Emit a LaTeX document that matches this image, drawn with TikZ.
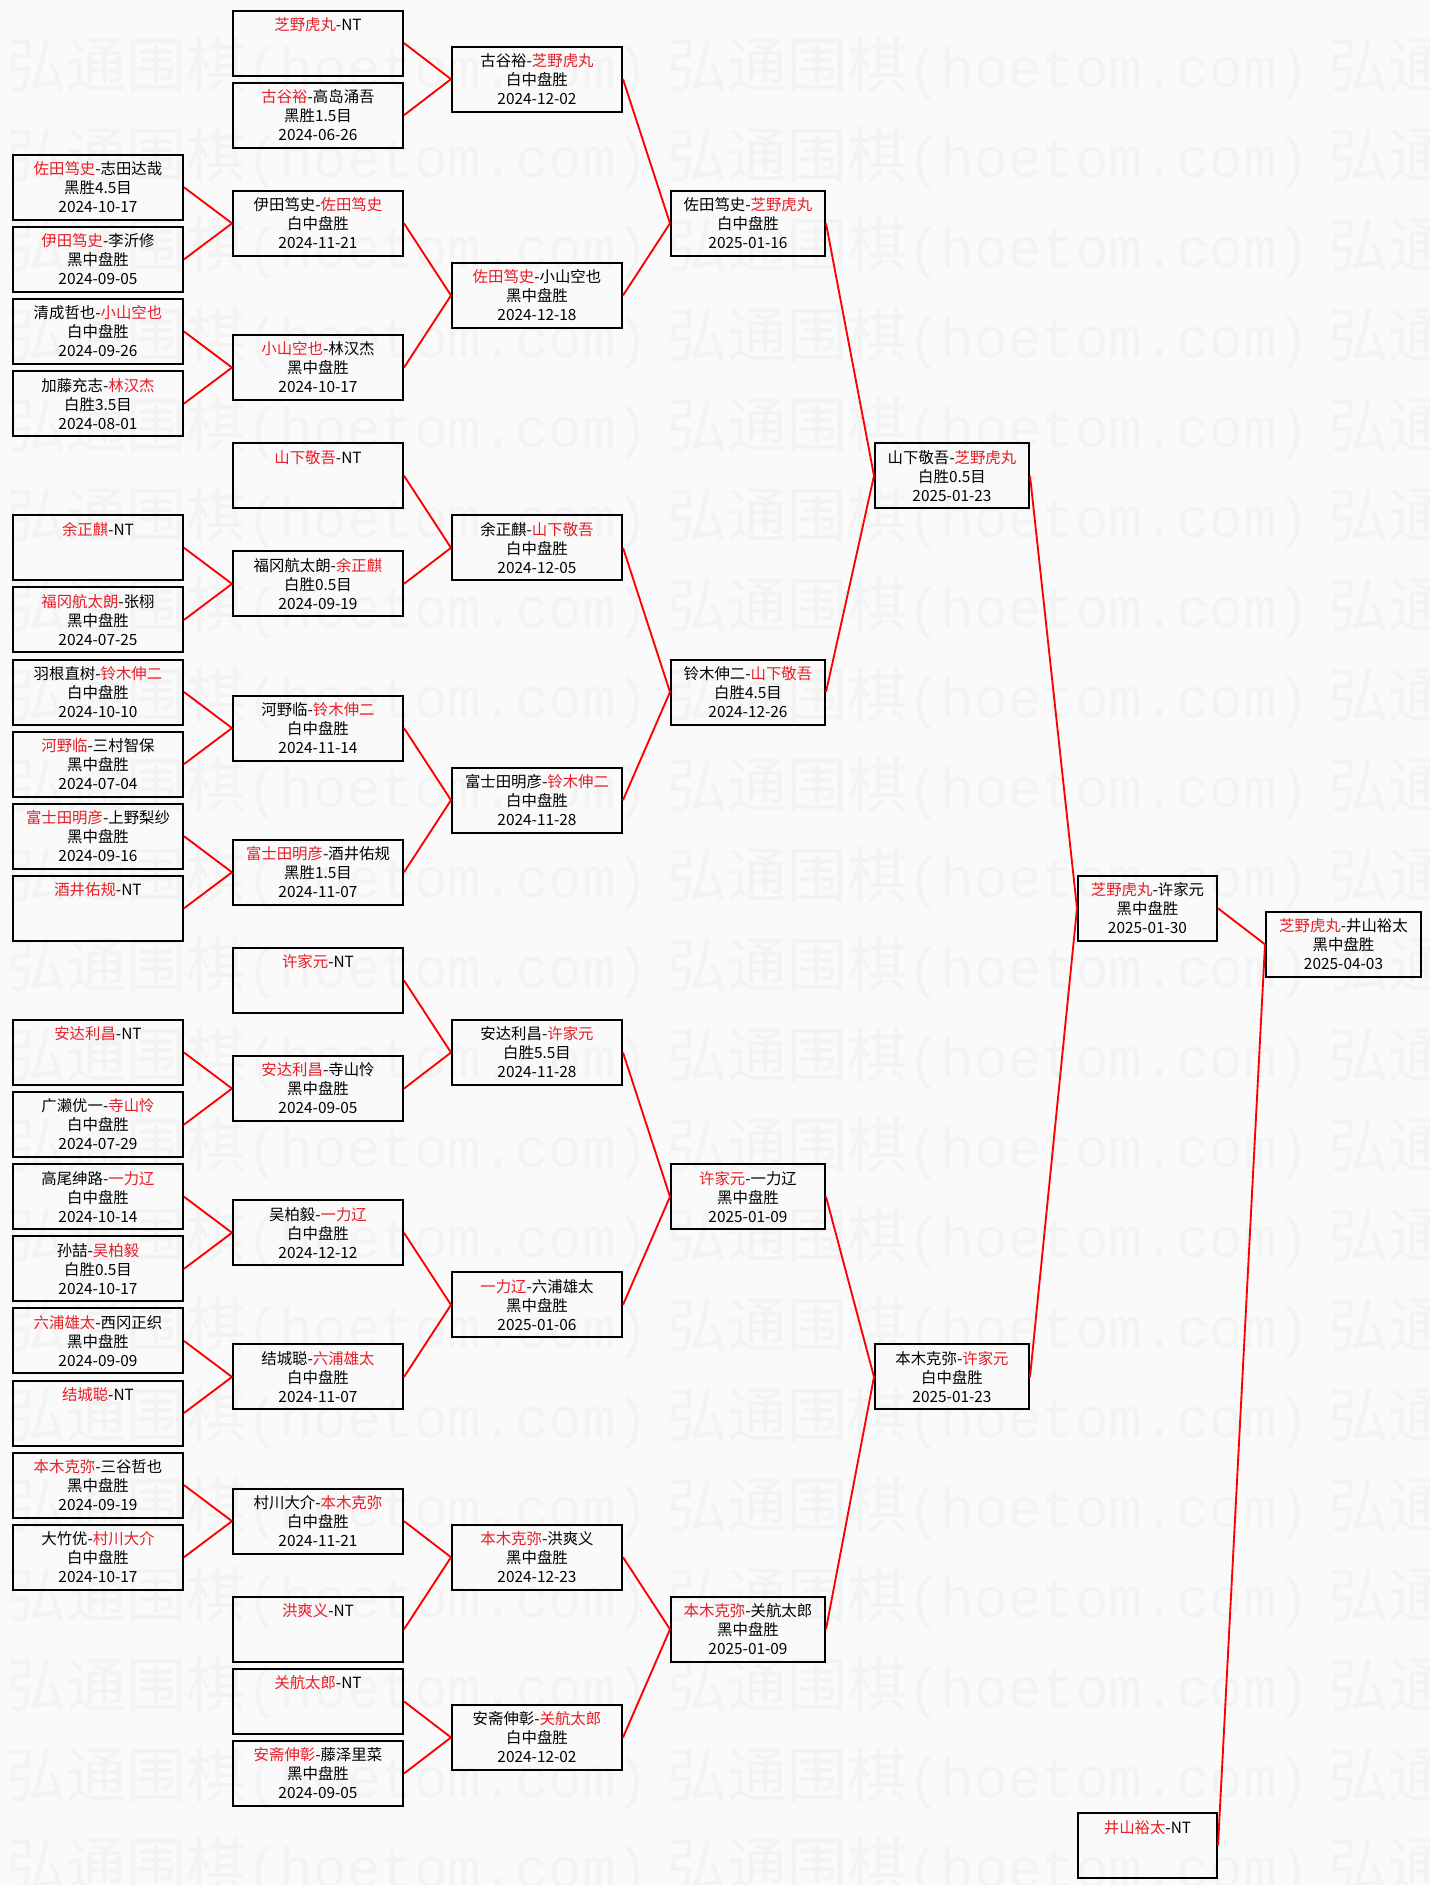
\documentclass[tikz,border=0pt]{standalone}
\usepackage{fontspec}
\setmainfont{Noto Sans CJK SC}
\newfontfamily\wmmono{Liberation Mono}
\usepackage{xcolor}
\usepackage{tikz}

\definecolor{winred}{RGB}{230,30,40}
\definecolor{bgcol}{RGB}{250,250,250}
\definecolor{wmcol}{RGB}{243,243,243}
\newcommand{\win}[1]{\textcolor{winred}{#1}}

\begin{document}
\begin{tikzpicture}[x=0.75pt, y=-0.75pt,
	match/.style={draw=black, line width=1.5pt, rectangle, anchor=north west, minimum height=48.75pt, inner sep=1pt, align=center, font=\fontsize{11.55}{14.25}\selectfont},
	wide/.style={minimum width=127.5pt},
	mid/.style={minimum width=115.5pt},
	link/.style={draw=red, line width=1.4pt},
	wmark/.style={anchor=base west, inner sep=0pt, text=wmcol, font=\fontsize{45}{45}\selectfont}]
	\useasboundingbox (0,0) rectangle (1430,1885);
	\fill[bgcol] (0,0) rectangle (1430,1885);
	\begin{scope}
		\clip (0,0) rectangle (1430,1885);
		\foreach \n in {0,...,20}{
			\foreach \m in {0,1,2}{
				\node[wmark] (wm\n-\m) at ({6+661*\m},{87+90*\n}) {弘通围棋{\wmmono\fontsize{42}{42}\selectfont(hoetom.com)}};
			}
		}
	\end{scope}
	
	\node[match, wide] (a4) at (12,{9.6+36.05*4}) {\win{佐田笃史}-志田达哉\\黑胜4.5目\\2024-10-17};
	\node[match, wide] (a6) at (12,{9.6+36.05*6}) {\win{伊田笃史}-李沂修\\黑中盘胜\\2024-09-05};
	\node[match, wide] (a8) at (12,{9.6+36.05*8}) {清成哲也-\win{小山空也}\\白中盘胜\\2024-09-26};
	\node[match, wide] (a10) at (12,{9.6+36.05*10}) {加藤充志-\win{林汉杰}\\白胜3.5目\\2024-08-01};
	\node[match, wide] (a14) at (12,{9.6+36.05*14}) {\win{余正麒}-NT\\~\\~};
	\node[match, wide] (a16) at (12,{9.6+36.05*16}) {\win{福冈航太朗}-张栩\\黑中盘胜\\2024-07-25};
	\node[match, wide] (a18) at (12,{9.6+36.05*18}) {羽根直树-\win{铃木伸二}\\白中盘胜\\2024-10-10};
	\node[match, wide] (a20) at (12,{9.6+36.05*20}) {\win{河野临}-三村智保\\黑中盘胜\\2024-07-04};
	\node[match, wide] (a22) at (12,{9.6+36.05*22}) {\win{富士田明彦}-上野梨纱\\黑中盘胜\\2024-09-16};
	\node[match, wide] (a24) at (12,{9.6+36.05*24}) {\win{酒井佑规}-NT\\~\\~};
	\node[match, wide] (a28) at (12,{9.6+36.05*28}) {\win{安达利昌}-NT\\~\\~};
	\node[match, wide] (a30) at (12,{9.6+36.05*30}) {广濑优一-\win{寺山怜}\\白中盘胜\\2024-07-29};
	\node[match, wide] (a32) at (12,{9.6+36.05*32}) {高尾绅路-\win{一力辽}\\白中盘胜\\2024-10-14};
	\node[match, wide] (a34) at (12,{9.6+36.05*34}) {孙喆-\win{吴柏毅}\\白胜0.5目\\2024-10-17};
	\node[match, wide] (a36) at (12,{9.6+36.05*36}) {\win{六浦雄太}-西冈正织\\黑中盘胜\\2024-09-09};
	\node[match, wide] (a38) at (12,{9.6+36.05*38}) {\win{结城聪}-NT\\~\\~};
	\node[match, wide] (a40) at (12,{9.6+36.05*40}) {\win{本木克弥}-三谷哲也\\黑中盘胜\\2024-09-19};
	\node[match, wide] (a42) at (12,{9.6+36.05*42}) {大竹优-\win{村川大介}\\白中盘胜\\2024-10-17};
	
	\node[match, wide] (b0) at (232,{9.6+36.05*0}) {\win{芝野虎丸}-NT\\~\\~};
	\node[match, wide] (b2) at (232,{9.6+36.05*2}) {\win{古谷裕}-高岛涌吾\\黑胜1.5目\\2024-06-26};
	\node[match, wide] (b5) at (232,{9.6+36.05*5}) {伊田笃史-\win{佐田笃史}\\白中盘胜\\2024-11-21};
	\node[match, wide] (b9) at (232,{9.6+36.05*9}) {\win{小山空也}-林汉杰\\黑中盘胜\\2024-10-17};
	\node[match, wide] (b12) at (232,{9.6+36.05*12}) {\win{山下敬吾}-NT\\~\\~};
	\node[match, wide] (b15) at (232,{9.6+36.05*15}) {福冈航太朗-\win{余正麒}\\白胜0.5目\\2024-09-19};
	\node[match, wide] (b19) at (232,{9.6+36.05*19}) {河野临-\win{铃木伸二}\\白中盘胜\\2024-11-14};
	\node[match, wide] (b23) at (232,{9.6+36.05*23}) {\win{富士田明彦}-酒井佑规\\黑胜1.5目\\2024-11-07};
	\node[match, wide] (b26) at (232,{9.6+36.05*26}) {\win{许家元}-NT\\~\\~};
	\node[match, wide] (b29) at (232,{9.6+36.05*29}) {\win{安达利昌}-寺山怜\\黑中盘胜\\2024-09-05};
	\node[match, wide] (b33) at (232,{9.6+36.05*33}) {吴柏毅-\win{一力辽}\\白中盘胜\\2024-12-12};
	\node[match, wide] (b37) at (232,{9.6+36.05*37}) {结城聪-\win{六浦雄太}\\白中盘胜\\2024-11-07};
	\node[match, wide] (b41) at (232,{9.6+36.05*41}) {村川大介-\win{本木克弥}\\白中盘胜\\2024-11-21};
	\node[match, wide] (b44) at (232,{9.6+36.05*44}) {\win{洪爽义}-NT\\~\\~};
	\node[match, wide] (b46) at (232,{9.6+36.05*46}) {\win{关航太郎}-NT\\~\\~};
	\node[match, wide] (b48) at (232,{9.6+36.05*48}) {\win{安斋伸彰}-藤泽里菜\\黑中盘胜\\2024-09-05};
	
	\node[match, wide] (c1) at (451,{9.6+36.05*1}) {古谷裕-\win{芝野虎丸}\\白中盘胜\\2024-12-02};
	\node[match, wide] (c7) at (451,{9.6+36.05*7}) {\win{佐田笃史}-小山空也\\黑中盘胜\\2024-12-18};
	\node[match, wide] (c14) at (451,{9.6+36.05*14}) {余正麒-\win{山下敬吾}\\白中盘胜\\2024-12-05};
	\node[match, wide] (c21) at (451,{9.6+36.05*21}) {富士田明彦-\win{铃木伸二}\\白中盘胜\\2024-11-28};
	\node[match, wide] (c28) at (451,{9.6+36.05*28}) {安达利昌-\win{许家元}\\白胜5.5目\\2024-11-28};
	\node[match, wide] (c35) at (451,{9.6+36.05*35}) {\win{一力辽}-六浦雄太\\黑中盘胜\\2025-01-06};
	\node[match, wide] (c42) at (451,{9.6+36.05*42}) {\win{本木克弥}-洪爽义\\黑中盘胜\\2024-12-23};
	\node[match, wide] (c47) at (451,{9.6+36.05*47}) {安斋伸彰-\win{关航太郎}\\白中盘胜\\2024-12-02};
	
	\node[match, mid] (d5) at (670,{9.6+36.05*5}) {佐田笃史-\win{芝野虎丸}\\白中盘胜\\2025-01-16};
	\node[match, mid] (d18) at (670,{9.6+36.05*18}) {铃木伸二-\win{山下敬吾}\\白胜4.5目\\2024-12-26};
	\node[match, mid] (d32) at (670,{9.6+36.05*32}) {\win{许家元}-一力辽\\黑中盘胜\\2025-01-09};
	\node[match, mid] (d44) at (670,{9.6+36.05*44}) {\win{本木克弥}-关航太郎\\黑中盘胜\\2025-01-09};
	
	\node[match, mid] (e12) at (874,{9.6+36.05*12}) {山下敬吾-\win{芝野虎丸}\\白胜0.5目\\2025-01-23};
	\node[match, mid] (e37) at (874,{9.6+36.05*37}) {本木克弥-\win{许家元}\\白中盘胜\\2025-01-23};
	
	\node[match, minimum width=104.25pt] (f24) at (1077,{9.6+36.05*24}) {\win{芝野虎丸}-许家元\\黑中盘胜\\2025-01-30};
	\node[match, minimum width=104.25pt] (f50) at (1077,{9.6+36.05*50}) {\win{井山裕太}-NT\\~\\~};
	\node[match, minimum width=116.25pt] (g25) at (1265,{9.6+36.05*25}) {\win{芝野虎丸}-井山裕太\\黑中盘胜\\2025-04-03};
	
	\foreach \src/\dst in {a4/b5, a6/b5, a8/b9, a10/b9, a14/b15, a16/b15, a18/b19, a20/b19,
		a22/b23, a24/b23, a28/b29, a30/b29, a32/b33, a34/b33, a36/b37, a38/b37,
		a40/b41, a42/b41,
		b0/c1, b2/c1, b5/c7, b9/c7, b12/c14, b15/c14, b19/c21, b23/c21,
		b26/c28, b29/c28, b33/c35, b37/c35, b41/c42, b44/c42, b46/c47, b48/c47,
		c1/d5, c7/d5, c14/d18, c21/d18, c28/d32, c35/d32, c42/d44, c47/d44,
		d5/e12, d18/e12, d32/e37, d44/e37,
		e12/f24, e37/f24,
		f24/g25, f50/g25}{
		\draw[link] (\src.east) -- (\dst.west);
	}
\end{tikzpicture}
\end{document}
